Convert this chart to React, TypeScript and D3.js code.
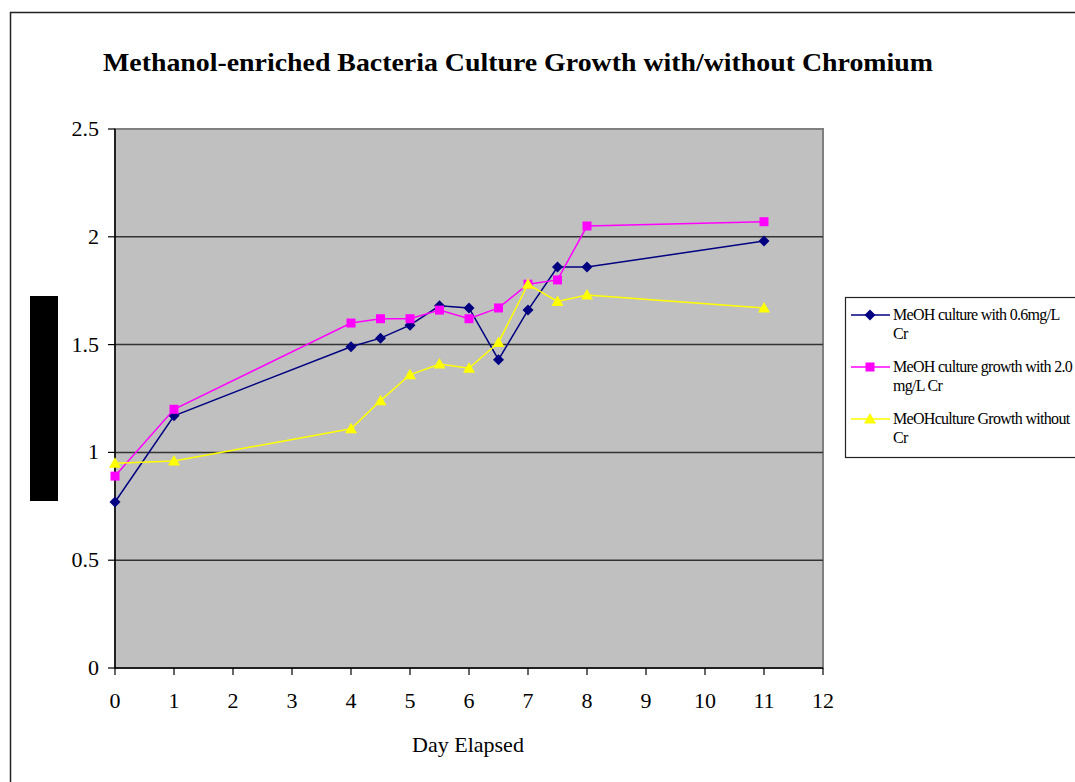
import React from "react"
import * as d3 from "d3"

const days = [0, 1, 4, 4.5, 5, 5.5, 6, 6.5, 7, 7.5, 8, 11]
const cr06 = [0.77, 1.17, 1.49, 1.53, 1.59, 1.68, 1.67, 1.43, 1.66, 1.86, 1.86, 1.98]
const cr20 = [0.89, 1.2, 1.6, 1.62, 1.62, 1.66, 1.62, 1.67, 1.78, 1.8, 2.05, 2.07]
const noCr = [0.95, 0.96, 1.11, 1.24, 1.36, 1.41, 1.39, 1.51, 1.78, 1.7, 1.73, 1.67]
const xTicks = [0, 1, 2, 3, 4, 5, 6, 7, 8, 9, 10, 11, 12]
const yTicks = [0, 0.5, 1, 1.5, 2, 2.5]
const legendLines = [
  ["MeOH culture with 0.6mg/L", "Cr"],
  ["MeOH culture growth with 2.0", "mg/L Cr"],
  ["MeOHculture Growth without", "Cr"],
]

const series = [
  { values: cr06, color: "#000080", shape: "diamond" },
  { values: cr20, color: "#FF00FF", shape: "square" },
  { values: noCr, color: "#FFFF00", shape: "triangle" },
]

const width = 1075
const height = 782
const plot = { left: 115, right: 823, top: 129, bottom: 668 }
const font = "'Liberation Serif', 'Times New Roman', serif"

const Marker = (props: { shape: string; color: string; x: number; y: number }) => {
  const { shape, color, x, y } = props
  if (shape === "diamond") {
    return <path d={`M${x},${y - 5.5}L${x + 5.5},${y}L${x},${y + 5.5}L${x - 5.5},${y}Z`} fill={color} />
  }
  if (shape === "square") {
    return <rect x={x - 4.5} y={y - 4.5} width={9} height={9} fill={color} />
  }
  return <path d={`M${x},${y - 6}L${x + 6},${y + 4.5}L${x - 6},${y + 4.5}Z`} fill={color} />
}

export default function App() {
  const xScale = d3.scaleLinear().domain([0, 12]).range([plot.left, plot.right])
  const yScale = d3.scaleLinear().domain([0, 2.5]).range([plot.bottom, plot.top])
  const line = d3
    .line<number>()
    .x((_, i) => xScale(days[i]))
    .y((d) => yScale(d))

  return (
    <svg
      width={width}
      height={height}
      style={{ position: "absolute", left: 0, top: 0, background: "#fff" }}
      fontFamily={font}
    >
      <rect x={10.5} y={12.5} width={1100} height={800} fill="#fff" stroke="#222" strokeWidth={1.5} />
      <text
        x={518}
        y={71}
        textAnchor="middle"
        fontSize={25}
        fontWeight="bold"
        textLength={830}
        lengthAdjust="spacingAndGlyphs"
      >
        Methanol-enriched Bacteria Culture Growth with/without Chromium
      </text>
      <rect x={30} y={296} width={28} height={205} fill="#000" />

      <rect
        x={plot.left}
        y={plot.top}
        width={plot.right - plot.left}
        height={plot.bottom - plot.top}
        fill="#C0C0C0"
        stroke="#808080"
        strokeWidth={2}
      />
      {yTicks
        .filter((t) => t > 0 && t < 2.5)
        .map((t) => (
          <line key={t} x1={plot.left} x2={plot.right} y1={yScale(t)} y2={yScale(t)} stroke="#333" strokeWidth={1.5} />
        ))}
      <line x1={plot.left} x2={plot.left} y1={plot.top} y2={plot.bottom} stroke="#000" strokeWidth={1.5} />
      <line x1={plot.left} x2={plot.right} y1={plot.bottom} y2={plot.bottom} stroke="#000" strokeWidth={1.5} />
      {yTicks.map((t) => (
        <g key={t}>
          <line x1={plot.left - 7} x2={plot.left} y1={yScale(t)} y2={yScale(t)} stroke="#000" strokeWidth={1.2} />
          <text x={plot.left - 16} y={yScale(t) + 7} textAnchor="end" fontSize={22}>
            {t}
          </text>
        </g>
      ))}
      {xTicks.map((t) => (
        <g key={t}>
          <line x1={xScale(t)} x2={xScale(t)} y1={plot.bottom} y2={plot.bottom + 7} stroke="#000" strokeWidth={1.2} />
          <text x={xScale(t)} y={708} textAnchor="middle" fontSize={22}>
            {t}
          </text>
        </g>
      ))}
      <text x={468} y={752} textAnchor="middle" fontSize={22}>
        Day Elapsed
      </text>

      {series.map((s) => (
        <g key={s.shape}>
          <path d={line(s.values) || ""} fill="none" stroke={s.color} strokeWidth={1.5} />
          {s.values.map((v, i) => (
            <Marker key={i} shape={s.shape} color={s.color} x={xScale(days[i])} y={yScale(v)} />
          ))}
        </g>
      ))}

      <rect x={845.5} y={297.5} width={300} height={160} fill="#fff" stroke="#222" strokeWidth={1.2} />
      {series.map((s, i) => {
        const y = 315 + i * 52
        return (
          <g key={s.shape}>
            <line x1={851} x2={890} y1={y} y2={y} stroke={s.color} strokeWidth={1.5} />
            <Marker shape={s.shape} color={s.color} x={870} y={y} />
            <text x={893} y={y + 5} fontSize={16} letterSpacing={-0.7}>
              {legendLines[i][0]}
            </text>
            <text x={893} y={y + 24} fontSize={16} letterSpacing={-0.7}>
              {legendLines[i][1]}
            </text>
          </g>
        )
      })}
    </svg>
  )
}
